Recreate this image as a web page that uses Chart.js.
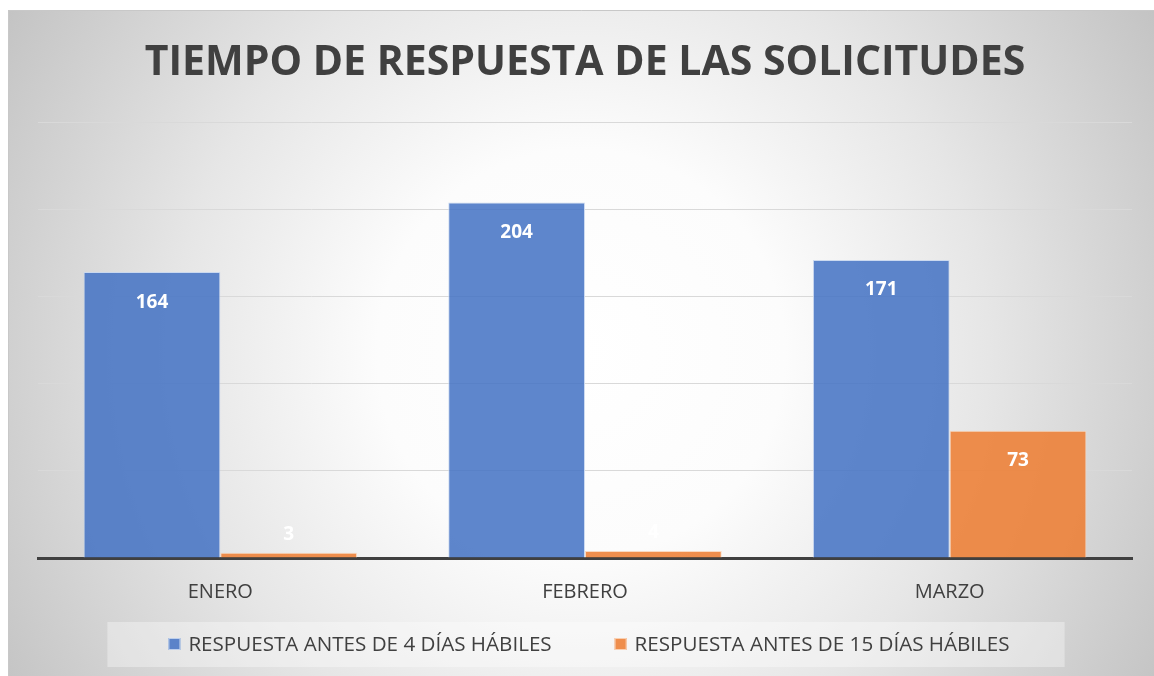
<!DOCTYPE html>
<html>
<head>
<meta charset="utf-8">
<script src="https://cdn.jsdelivr.net/npm/chart.js@4.4.1/dist/chart.umd.min.js"></script>
<style>
  html,body{margin:0;padding:0;background:#fff;}
  #wrap{width:1154px;height:676px;position:relative;}
</style>
</head>
<body>
<div id="wrap"><canvas id="chart"></canvas></div>
<script>
const meses=['ENERO','FEBRERO','MARZO']
const antes4=[164,204,171]
const antes15=[3,4,73]
const serie1='RESPUESTA ANTES DE 4 DÍAS HÁBILES'
const serie2='RESPUESTA ANTES DE 15 DÍAS HÁBILES'
const tituloTxt='TIEMPO DE RESPUESTA DE LAS SOLICITUDES'

const FONT='"Open Sans", sans-serif'
const gris='#404040'

// fondo con degradado radial, como el panel de excel
const fondo={
  id:'fondo',
  beforeDraw(chart){
    const ctx=chart.ctx
    const w=chart.width, h=chart.height
    ctx.save()
    ctx.fillStyle='#fff'
    ctx.fillRect(0,0,w,h)
    const cx=(8+w)/2, cy=(10+h)/2+10
    const g=ctx.createRadialGradient(cx,cy,0,cx,cy,680)
    g.addColorStop(0,'#ffffff')
    g.addColorStop(0.3,'#fcfcfc')
    g.addColorStop(0.6,'#e6e6e6')
    g.addColorStop(1,'#c2c2c2')
    ctx.fillStyle=g
    ctx.fillRect(8,10,w-8,h-10)
    ctx.strokeStyle='#c8c8c8'
    ctx.lineWidth=1
    ctx.beginPath()
    ctx.moveTo(8.5,h)
    ctx.lineTo(8.5,10.5)
    ctx.lineTo(w,10.5)
    ctx.stroke()
    ctx.restore()
  }
}

// etiquetas de valor dentro de las barras
const etiquetas={
  id:'etiquetas',
  afterDatasetsDraw(chart){
    const ctx=chart.ctx
    ctx.save()
    ctx.font='bold 19px '+FONT
    ctx.fillStyle='#ffffff'
    ctx.textAlign='center'
    ctx.textBaseline='middle'
    chart.data.datasets.forEach((ds,i)=>{
      const meta=chart.getDatasetMeta(i)
      meta.data.forEach((bar,j)=>{
        const alto=bar.base-bar.y
        const y=alto>40 ? bar.y+30 : bar.y-18
        ctx.fillText(ds.data[j],bar.x,y)
      })
    })
    ctx.restore()
  }
}

// leyenda propia con caja gris
const leyenda={
  id:'leyenda',
  afterDraw(chart){
    const ctx=chart.ctx
    const cy=644
    ctx.save()
    ctx.font='20.6px '+FONT
    const items=chart.data.datasets.map(ds=>({txt:ds.label,col:ds.backgroundColor,borde:ds.borderColor,w:ctx.measureText(ds.label).width}))
    const caja=12, sep=8, gap=63
    let total=0
    items.forEach((it,i)=>{total+=caja+sep+it.w+(i<items.length-1?gap:0)})
    const centro=(chart.chartArea.left+chart.chartArea.right)/2+4
    const x0=centro-total/2
    // caja
    ctx.fillStyle='rgba(255,255,255,0.35)'
    ctx.fillRect(x0-61,cy-22,total+61+55,45)
    let x=x0
    ctx.textBaseline='middle'
    ctx.textAlign='left'
    items.forEach(it=>{
      ctx.fillStyle=it.col
      ctx.fillRect(x,cy-6,caja,caja)
      ctx.strokeStyle=it.borde
      ctx.lineWidth=1
      ctx.strokeRect(x+0.5,cy-5.5,caja-1,caja-1)
      ctx.fillStyle=gris
      ctx.fillText(it.txt,x+caja+sep,cy+1)
      x+=caja+sep+it.w+gap
    })
    ctx.restore()
  }
}

new Chart(document.getElementById('chart'),{
  type:'bar',
  data:{
    labels:meses,
    datasets:[
      {label:serie1,data:antes4,backgroundColor:'rgba(68,114,196,0.86)',borderColor:'rgba(200,215,240,0.9)',borderWidth:1},
      {label:serie2,data:antes15,backgroundColor:'rgba(237,125,49,0.86)',borderColor:'rgba(250,215,190,0.9)',borderWidth:1}
    ]
  },
  options:{
    responsive:true,
    maintainAspectRatio:false,
    animation:false,
    layout:{padding:{left:38,right:22,top:10,bottom:58}},
    datasets:{bar:{categoryPercentage:0.75,barPercentage:1.0}},
    plugins:{
      legend:{display:false},
      tooltip:{enabled:false},
      title:{
        display:true,
        text:tituloTxt,
        color:gris,
        font:{family:FONT,size:41,weight:'bold'},
        padding:{top:29,bottom:34}
      }
    },
    scales:{
      x:{
        grid:{display:false},
        border:{color:gris,width:3},
        ticks:{color:gris,font:{family:FONT,size:20},padding:14}
      },
      y:{
        min:0,max:250,
        ticks:{display:false,stepSize:50},
        grid:{color:'#d9d9d9',lineWidth:1,drawTicks:false},
        border:{display:false}
      }
    }
  },
  plugins:[fondo,etiquetas,leyenda]
})
</script>
</body>
</html>
